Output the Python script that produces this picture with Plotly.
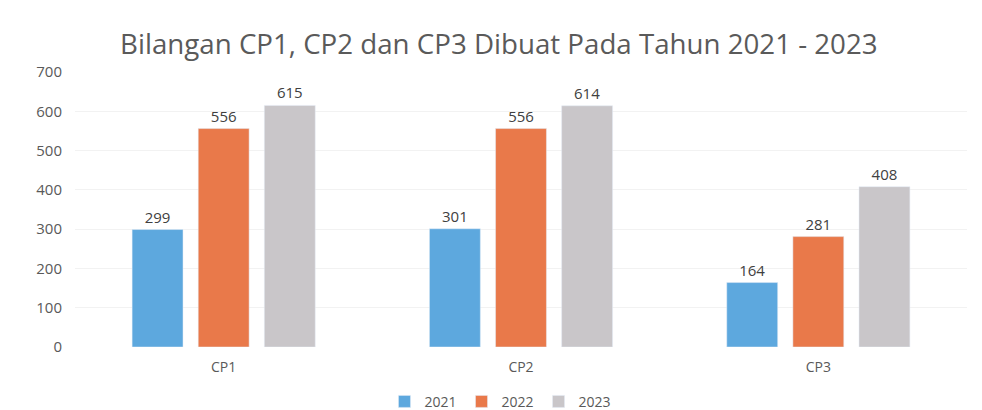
import plotly.graph_objects as go

categories = ["CP1", "CP2", "CP3"]
years = ["2021", "2022", "2023"]
values_2021 = [299, 301, 164]
values_2022 = [556, 556, 281]
values_2023 = [615, 614, 408]
colors = ["#5DA8DE", "#E9794A", "#C9C6C9"]

fig = go.Figure()
for name, vals, col in zip(years, [values_2021, values_2022, values_2023], colors):
    fig.add_trace(go.Bar(
        x=categories, y=vals, name=name, marker_color=col,
        text=[str(v) for v in vals], textposition="outside",
        textfont=dict(size=15, color="#404040"), cliponaxis=False,
    ))

fig.update_layout(
    width=982, height=410,
    paper_bgcolor="white", plot_bgcolor="white",
    font=dict(family="Open Sans, Noto Sans, sans-serif", color="#595959"),
    title=dict(text="Bilangan CP1, CP2 dan CP3 Dibuat Pada Tahun 2021 - 2023",
               x=0.508, xanchor="center", yref="container", y=0.893, yanchor="middle",
               font=dict(size=27.7, color="#5A5A5A")),
    margin=dict(l=75, r=15, t=72, b=63, autoexpand=False),
    barmode="group", bargap=0.333, bargroupgap=0.23,
    showlegend=True,
    legend=dict(orientation="h", x=0.477, xanchor="center",
                yref="container", y=0.02, yanchor="middle",
                font=dict(size=14, color="#595959"), itemwidth=30, traceorder="normal"),
    xaxis=dict(showgrid=False, showline=False, ticks="", tickfont=dict(size=14, color="#595959"),
               ticklabelstandoff=10),
    yaxis=dict(range=[0, 700], dtick=100, showgrid=True, gridcolor="#F2F2F2",
               zeroline=False, showline=False, ticks="",
               tickfont=dict(size=15, color="#595959"), ticklabelstandoff=12),
)

fig.write_html("out.html", config={"displayModeBar": False},
               post_script="document.body.style.margin='0';")
